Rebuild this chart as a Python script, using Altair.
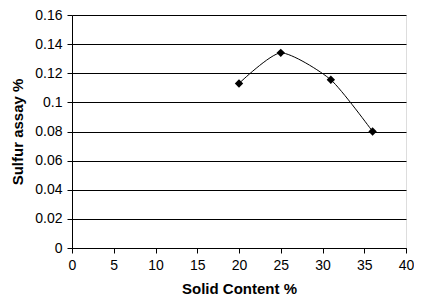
import altair as alt
import pandas as pd

solid = [20, 25, 31, 36]
sulfur = [0.113, 0.134, 0.1155, 0.080]
x_ticks = [0, 5, 10, 15, 20, 25, 30, 35, 40]
y_ticks = [0, 0.02, 0.04, 0.06, 0.08, 0.1, 0.12, 0.14, 0.16]

df = pd.DataFrame({"solid": solid, "sulfur": sulfur})

FONT = "Liberation Sans"

x = alt.X("solid:Q", title="Solid Content %",
          scale=alt.Scale(domain=[0, 40], nice=False, zero=True),
          axis=alt.Axis(values=x_ticks, grid=False, tickColor="black", domainColor="black",
                        tickSize=5, labelPadding=5, labelFontSize=14, labelColor="black",
                        labelFont=FONT, titleFont=FONT, titleFontSize=15, titleFontWeight="bold",
                        titleColor="black", titlePadding=9, labelFlush=False))
y = alt.Y("sulfur:Q", title="Sulfur assay %",
          scale=alt.Scale(domain=[0, 0.16], nice=False),
          axis=alt.Axis(values=y_ticks, grid=True, gridColor="black", gridOpacity=1,
                        tickColor="black", domainColor="black", tickSize=5, labelPadding=5,
                        labelFontSize=14, labelColor="black", labelFont=FONT,
                        titleFont=FONT, titleFontSize=15, titleFontWeight="bold",
                        titleColor="black", titlePadding=9,
                        labelExpr="datum.value == 0 ? '0' : format(datum.value, '.2~f')"))

line = alt.Chart(df).mark_line(color="black", strokeWidth=1, interpolate="cardinal", tension=0.35).encode(x=x, y=y)
pts = alt.Chart(df).mark_point(shape="diamond", filled=True, color="black", size=70, opacity=1).encode(x=x, y=y)

chart = (line + pts).properties(
    width=334, height=233,
    autosize=alt.AutoSizeParams(type="none"),
    padding={"left": 64, "top": 7, "right": 8, "bottom": 47},
).configure_view(stroke="black", strokeWidth=1).configure(background="white")

chart.save("out.html", embed_options={"renderer": "svg", "actions": False})
